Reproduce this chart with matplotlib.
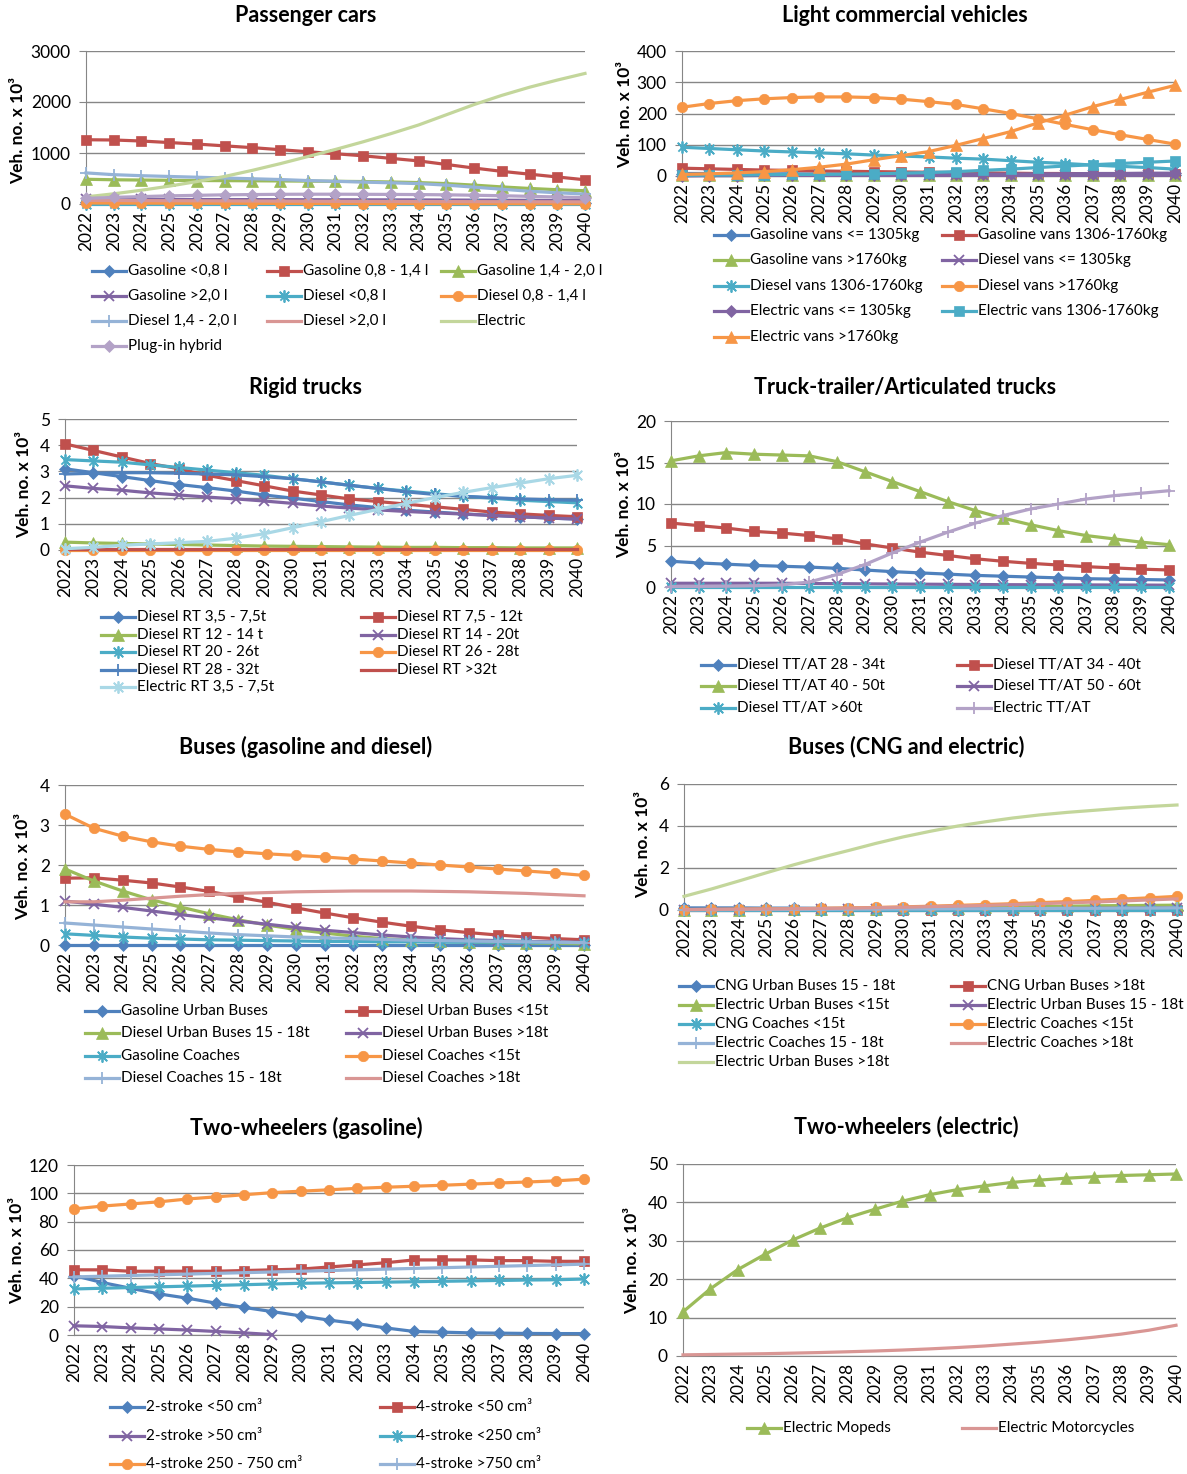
import numpy as np
import matplotlib
matplotlib.use("Agg")
from matplotlib import pyplot as plt
from matplotlib.lines import Line2D

W, H = 1187, 1474
plt.rcParams["font.family"] = ["Lato", "DejaVu Sans"]

years = list(range(2022, 2041))

# ---- Passenger cars ----
pc_labels = ["Gasoline <0,8 l", "Gasoline 0,8 - 1,4 l", "Gasoline 1,4 - 2,0 l",
             "Gasoline >2,0 l", "Diesel <0,8 l", "Diesel 0,8 - 1,4 l",
             "Diesel 1,4 - 2,0 l", "Diesel >2,0 l", "Electric", "Plug-in hybrid"]
pc_values = [
    [30, 30, 29, 28, 27, 26, 25, 24, 23, 22, 21, 20, 19, 18, 17, 16, 15, 15, 14],
    [1260, 1255, 1235, 1205, 1175, 1140, 1105, 1065, 1025, 985, 945, 895, 845, 775, 705, 640, 585, 530, 475],
    [485, 475, 470, 465, 460, 458, 455, 452, 448, 445, 440, 432, 420, 400, 370, 335, 305, 280, 260],
    [95, 93, 91, 90, 88, 87, 86, 85, 84, 83, 82, 81, 80, 78, 76, 74, 72, 70, 68],
    [2, 2, 2, 2, 2, 2, 2, 2, 2, 2, 2, 2, 2, 2, 2, 2, 2, 2, 2],
    [20, 18, 17, 16, 15, 14, 13, 12, 11, 10, 9, 9, 8, 8, 7, 7, 6, 6, 5],
    [610, 575, 555, 540, 525, 510, 495, 480, 460, 445, 430, 415, 400, 370, 330, 290, 250, 220, 195],
    [70, 68, 66, 64, 62, 60, 58, 56, 54, 52, 50, 49, 48, 47, 46, 45, 44, 43, 42],
    [140, 200, 270, 350, 440, 540, 660, 790, 930, 1070, 1220, 1380, 1550, 1750, 1950, 2130, 2290, 2430, 2560],
    [110, 130, 145, 160, 170, 180, 185, 190, 192, 192, 190, 188, 185, 180, 172, 162, 150, 138, 125],
]

# ---- Light commercial vehicles ----
lcv_labels = ["Gasoline vans <= 1305kg", "Gasoline vans 1306-1760kg",
              "Gasoline vans >1760kg", "Diesel vans <= 1305kg",
              "Diesel vans 1306-1760kg", "Diesel vans >1760kg",
              "Electric vans <= 1305kg", "Electric vans 1306-1760kg",
              "Electric vans >1760kg"]
lcv_values = [
    [8, 8, 7, 7, 7, 6, 6, 6, 5, 5, 5, 5, 4, 4, 4, 4, 3, 3, 3],
    [25, 23, 21, 19, 18, 16, 15, 14, 13, 12, 11, 10, 9, 8, 8, 7, 7, 6, 6],
    [2, 2, 2, 2, 2, 2, 2, 2, 2, 2, 2, 2, 2, 2, 2, 2, 2, 2, 2],
    [3, 3, 3, 3, 3, 3, 3, 3, 3, 3, 3, 3, 3, 3, 3, 3, 3, 3, 3],
    [92, 88, 84, 80, 77, 74, 71, 67, 64, 61, 57, 54, 49, 44, 40, 35, 31, 27, 22],
    [220, 232, 241, 247, 251, 253, 253, 251, 246, 238, 229, 215, 200, 183, 165, 148, 132, 117, 102],
    [0, 1, 1, 2, 2, 3, 3, 4, 4, 5, 5, 6, 6, 7, 7, 8, 8, 9, 9],
    [2, 3, 3, 4, 5, 5, 6, 7, 9, 11, 14, 18, 22, 27, 32, 36, 40, 44, 48],
    [5, 7, 10, 14, 20, 28, 38, 52, 65, 78, 98, 120, 142, 170, 195, 222, 245, 268, 290],
]

# ---- Rigid trucks ----
rt_labels = ["Diesel RT 3,5 - 7,5t", "Diesel RT 7,5 - 12t", "Diesel RT 12 - 14 t",
             "Diesel RT 14 - 20t", "Diesel RT 20 - 26t", "Diesel RT 26 - 28t",
             "Diesel RT 28 - 32t", "Diesel RT >32t", "Electric RT 3,5 - 7,5t"]
rt_values = [
    [3.1, 2.95, 2.8, 2.65, 2.5, 2.38, 2.25, 2.1, 1.98, 1.85, 1.72, 1.62, 1.52, 1.45, 1.38, 1.32, 1.27, 1.22, 1.18],
    [4.05, 3.8, 3.55, 3.3, 3.1, 2.85, 2.65, 2.45, 2.25, 2.1, 1.95, 1.85, 1.75, 1.65, 1.55, 1.45, 1.38, 1.32, 1.27],
    [0.3, 0.27, 0.25, 0.23, 0.21, 0.19, 0.17, 0.15, 0.14, 0.13, 0.12, 0.11, 0.1, 0.1, 0.09, 0.09, 0.08, 0.08, 0.08],
    [2.45, 2.35, 2.28, 2.18, 2.1, 2.02, 1.95, 1.87, 1.78, 1.68, 1.6, 1.53, 1.47, 1.42, 1.37, 1.32, 1.27, 1.22, 1.18],
    [3.45, 3.4, 3.35, 3.25, 3.15, 3.05, 2.95, 2.85, 2.72, 2.6, 2.47, 2.35, 2.25, 2.15, 2.05, 1.98, 1.9, 1.85, 1.8],
    [0.01] * 19,
    [2.9, 2.93, 2.95, 2.95, 2.93, 2.9, 2.87, 2.8, 2.72, 2.6, 2.47, 2.35, 2.22, 2.12, 2.05, 2.0, 1.95, 1.92, 1.9],
    [0.02] * 19,
    [0.05, 0.1, 0.18, 0.23, 0.28, 0.33, 0.45, 0.62, 0.85, 1.08, 1.32, 1.55, 1.78, 2.0, 2.2, 2.38, 2.55, 2.72, 2.85],
]

# ---- Truck-trailer / articulated trucks ----
tt_labels = ["Diesel TT/AT 28 - 34t", "Diesel TT/AT 34 - 40t", "Diesel TT/AT 40 - 50t",
             "Diesel TT/AT 50 - 60t", "Diesel TT/AT >60t", "Electric TT/AT"]
tt_values = [
    [3.1, 2.9, 2.75, 2.6, 2.5, 2.4, 2.25, 2.05, 1.85, 1.7, 1.55, 1.4, 1.3, 1.2, 1.1, 1.0, 0.95, 0.9, 0.85],
    [7.7, 7.4, 7.1, 6.7, 6.5, 6.2, 5.8, 5.2, 4.7, 4.2, 3.8, 3.4, 3.1, 2.85, 2.65, 2.45, 2.3, 2.15, 2.05],
    [15.2, 15.8, 16.2, 16.0, 15.9, 15.8, 15.1, 13.9, 12.7, 11.5, 10.3, 9.2, 8.3, 7.5, 6.8, 6.2, 5.8, 5.4, 5.1],
    [0.45, 0.45, 0.45, 0.45, 0.45, 0.42, 0.4, 0.38, 0.36, 0.34, 0.32, 0.3, 0.28, 0.27, 0.26, 0.25, 0.24, 0.23, 0.22],
    [0.05] * 19,
    [0.05, 0.07, 0.1, 0.15, 0.25, 0.6, 1.5, 2.7, 4.1, 5.4, 6.6, 7.7, 8.6, 9.4, 10.0, 10.6, 11.0, 11.3, 11.6],
]

# ---- Buses (gasoline and diesel) ----
bgd_labels = ["Gasoline Urban Buses", "Diesel Urban Buses <15t", "Diesel Urban Buses 15 - 18t",
              "Diesel Urban Buses >18t", "Gasoline Coaches", "Diesel Coaches <15t",
              "Diesel Coaches 15 - 18t", "Diesel Coaches >18t"]
bgd_values = [
    [0.01] * 19,
    [1.67, 1.68, 1.62, 1.55, 1.45, 1.34, 1.2, 1.07, 0.93, 0.8, 0.68, 0.57, 0.47, 0.38, 0.31, 0.25, 0.2, 0.16, 0.13],
    [1.9, 1.6, 1.35, 1.13, 0.95, 0.78, 0.63, 0.5, 0.39, 0.3, 0.22, 0.16, 0.12, 0.09, 0.07, 0.06, 0.05, 0.04, 0.03],
    [1.1, 1.02, 0.94, 0.85, 0.76, 0.68, 0.6, 0.52, 0.44, 0.37, 0.31, 0.25, 0.2, 0.16, 0.13, 0.11, 0.09, 0.08, 0.07],
    [0.28, 0.24, 0.2, 0.17, 0.15, 0.13, 0.12, 0.11, 0.1, 0.09, 0.09, 0.08, 0.08, 0.07, 0.07, 0.07, 0.06, 0.06, 0.06],
    [3.27, 2.92, 2.72, 2.58, 2.47, 2.39, 2.33, 2.28, 2.24, 2.2, 2.15, 2.1, 2.05, 2.0, 1.95, 1.9, 1.85, 1.8, 1.74],
    [0.55, 0.5, 0.45, 0.4, 0.35, 0.3, 0.26, 0.23, 0.2, 0.18, 0.16, 0.14, 0.12, 0.11, 0.1, 0.09, 0.08, 0.07, 0.06],
    [1.08, 1.08, 1.12, 1.17, 1.22, 1.26, 1.29, 1.31, 1.33, 1.34, 1.35, 1.35, 1.35, 1.34, 1.33, 1.31, 1.29, 1.26, 1.23],
]

# ---- Buses (CNG and electric) ----
bce_labels = ["CNG Urban Buses 15 - 18t", "CNG Urban Buses >18t", "Electric Urban Buses <15t",
              "Electric Urban Buses 15 - 18t", "CNG Coaches <15t", "Electric Coaches <15t",
              "Electric Coaches 15 - 18t", "Electric Coaches >18t", "Electric Urban Buses >18t"]
bce_values = [
    [0.1, 0.1, 0.1, 0.09, 0.09, 0.08, 0.07, 0.06, 0.05, 0.04, 0.04, 0.03, 0.03, 0.02, 0.02, 0.02, 0.02, 0.01, 0.01],
    [0.02] * 19,
    [0.0, 0.01, 0.02, 0.03, 0.04, 0.05, 0.06, 0.07, 0.08, 0.09, 0.1, 0.12, 0.14, 0.16, 0.18, 0.2, 0.21, 0.22, 0.23],
    [0.0, 0.01, 0.01, 0.02, 0.02, 0.03, 0.03, 0.04, 0.04, 0.05, 0.05, 0.06, 0.06, 0.07, 0.07, 0.08, 0.08, 0.09, 0.09],
    [0.01] * 19,
    [0.02, 0.03, 0.04, 0.05, 0.06, 0.08, 0.1, 0.12, 0.15, 0.18, 0.22, 0.26, 0.3, 0.35, 0.4, 0.46, 0.52, 0.58, 0.65],
    [0.01, 0.01, 0.02, 0.02, 0.03, 0.03, 0.04, 0.04, 0.05, 0.05, 0.06, 0.06, 0.07, 0.07, 0.08, 0.08, 0.09, 0.09, 0.1],
    [0.02, 0.03, 0.04, 0.05, 0.06, 0.07, 0.09, 0.11, 0.13, 0.16, 0.19, 0.22, 0.26, 0.3, 0.34, 0.38, 0.43, 0.48, 0.53],
    [0.65, 1.0, 1.38, 1.77, 2.15, 2.5, 2.83, 3.17, 3.48, 3.75, 4.0, 4.2, 4.38, 4.53, 4.65, 4.75, 4.85, 4.93, 5.0],
]

# ---- Two-wheelers (gasoline) ----
twg_labels = ["2-stroke <50 cm³", "4-stroke <50 cm³", "2-stroke >50 cm³",
              "4-stroke <250 cm³", "4-stroke 250 - 750 cm³", "4-stroke >750 cm³"]
twg_values = [
    [42, 37, 33, 29, 26, 22.5, 19.5, 16.5, 13.5, 10.5, 8, 5, 2.5, 2, 1.5, 1.3, 1.1, 1, 1],
    [46, 46, 45, 45, 45, 45, 45.5, 46, 46.5, 48, 49.5, 51, 53, 53, 53, 52.5, 52.5, 52, 52],
    [6.5, 6, 5, 4.3, 3.5, 2.5, 1.5, 0.3] + [None] * 11,
    [32.5, 33, 33.5, 34, 34.5, 35, 35.5, 36, 36.5, 36.8, 37, 37.3, 37.6, 37.9, 38.2, 38.5, 38.8, 39, 39.5],
    [89, 91, 92.5, 94, 96, 97.5, 99, 100.5, 101.5, 102.5, 103.5, 104.3, 105, 105.7, 106.5, 107.3, 108, 108.8, 110],
    [41, 41.5, 42, 42.5, 43, 43.5, 44, 44.5, 45, 45.5, 46, 46.5, 47, 47.5, 48, 48.5, 49, 49.5, 50],
]

# ---- Two-wheelers (electric) ----
twe_labels = ["Electric Mopeds", "Electric Motorcycles"]
twe_values = [
    [11.5, 17.5, 22.5, 26.5, 30.2, 33.3, 36, 38.2, 40.3, 42, 43.3, 44.3, 45.2, 45.8, 46.3, 46.7, 47, 47.2, 47.4],
    [0.3, 0.4, 0.5, 0.6, 0.75, 0.9, 1.1, 1.3, 1.55, 1.85, 2.2, 2.6, 3.1, 3.6, 4.2, 4.9, 5.7, 6.7, 8.0],
]

# colours / markers (Excel-like)
BLUE, RED, GREEN, PURPLE = "#4F81BD", "#C0504D", "#9BBB59", "#8064A2"
AQUA, ORANGE = "#4BACC6", "#F79646"
LBLUE, LRED, LGREEN, LPURPLE, LAQUA = "#95B3D7", "#D99694", "#C3D69B", "#B3A2C7", "#A9D8E6"
AST = [(-1, -1), (1, 1), (0, 0), (-1, 1), (1, -1), (0, 0), (0, 1.35), (0, -1.35), (0, 0)]
base = [(BLUE, "D"), (RED, "s"), (GREEN, "^"), (PURPLE, "x"), (AQUA, "ast"), (ORANGE, "o")]

pc_styles = base + [(LBLUE, "+"), (LRED, None), (LGREEN, None), (LPURPLE, "D")]
lcv_styles = base + [(PURPLE, "D"), (AQUA, "s"), (ORANGE, "^")]
rt_styles = base + [(BLUE, "+"), (RED, None), (LAQUA, "ast")]
tt_styles = base[:5] + [(LPURPLE, "+")]
bgd_styles = base + [(LBLUE, "+"), (LRED, None)]
bce_styles = base + [(LBLUE, "+"), (LRED, None), (LGREEN, None)]
twg_styles = [(BLUE, "D"), (RED, "s"), (PURPLE, "x"), (AQUA, "ast"), (ORANGE, "o"), (LBLUE, "+")]
twe_styles = [(GREEN, "^"), (LRED, None)]

MS = {"D": 6, "s": 7, "^": 8, "x": 7, "ast": 8, "o": 7.5, "+": 8}
LW = 2.3
GRID = "#868686"
FS = 12.5
LFS = 11

fig = plt.figure(figsize=(W / 100, H / 100), dpi=100)


def fx(x):
    return x / W


def fy(y):
    return 1 - y / H


def mstyle(color, marker):
    if marker is None:
        return {}
    thin = marker in ("x", "+", "ast")
    return dict(marker=AST if marker == "ast" else marker, markersize=MS[marker],
                markerfacecolor=color, markeredgecolor=color,
                markeredgewidth=1.3 if thin else 0.5)


def panel(title, labels, values, styles, geom, ylab, tpos, leg):
    x0, x1, ytop, ybot, ymax, ystep = geom
    ax = fig.add_axes([fx(x0), fy(ybot), (x1 - x0) / W, (ybot - ytop) / H])
    idx = np.arange(len(years))
    for vals, (color, marker) in zip(values, styles):
        ys = np.array([np.nan if v is None else v for v in vals], dtype=float)
        ax.plot(idx, ys, color=color, lw=LW, clip_on=False, zorder=3, **mstyle(color, marker))
    ax.set_xlim(0, len(years) - 1)
    ax.set_ylim(0, ymax)
    ax.set_yticks(np.arange(0, ymax + ystep / 2, ystep))
    ax.set_xticks(idx)
    ax.set_xticklabels([str(y) for y in years], rotation=90)
    ax.tick_params(axis="x", length=0, pad=5, labelsize=FS)
    ax.tick_params(axis="y", length=5, color=GRID, pad=6, labelsize=FS)
    ax.yaxis.grid(True, color=GRID, lw=1)
    ax.set_axisbelow(True)
    for s in ("top", "right"):
        ax.spines[s].set_visible(False)
    for s in ("left", "bottom"):
        ax.spines[s].set_color(GRID)
    ax.set_facecolor("none")
    fig.text(fx(tpos[0]), fy(tpos[1]), title, ha="center", va="center",
             fontsize=15.5, fontweight="bold")
    fig.text(fx(ylab[0]), fy(ylab[1]), "Veh. no. x 10³", rotation=90, ha="center",
             va="center", fontsize=12.5, fontweight="bold")
    cols, rows = leg
    ncol = len(cols)
    for i, (lab, (color, marker)) in enumerate(zip(labels, styles)):
        xl = cols[i % ncol]
        yl = rows[i // ncol]
        fig.add_artist(Line2D([fx(xl), fx(xl + 34)], [fy(yl)] * 2, color=color, lw=LW,
                              transform=fig.transFigure))
        if marker is not None:
            fig.add_artist(Line2D([fx(xl + 17)], [fy(yl)], color=color, lw=0,
                                  transform=fig.transFigure, **mstyle(color, marker)))
        fig.text(fx(xl + 36), fy(yl), lab, ha="left", va="center", fontsize=LFS)
    return ax


panel("Passenger cars", pc_labels, pc_values, pc_styles,
      (86, 585, 51, 204, 3000, 1000), (18, 130), (306, 15),
      ([92, 267, 441], [271, 296, 321, 346]))
panel("Light commercial vehicles", lcv_labels, lcv_values, lcv_styles,
      (682, 1175, 51, 176, 400, 100), (625, 114), (905, 15),
      ([714, 942], [235, 260, 286, 311, 337]))
panel("Rigid trucks", rt_labels, rt_values, rt_styles,
      (65, 577, 419, 550, 5, 1), (24, 485), (306, 387),
      ([101, 361], [617, 635, 652, 670, 687]))
panel("Truck-trailer/Articulated trucks", tt_labels, tt_values, tt_styles,
      (671, 1169, 421, 587, 20, 5), (624, 504), (905, 387),
      ([701, 957], [665, 686, 708]))
panel("Buses (gasoline and diesel)", bgd_labels, bgd_values, bgd_styles,
      (65, 584, 785, 945, 4, 1), (23, 866), (306, 747),
      ([85, 346], [1011, 1033, 1056, 1078]))
panel("Buses (CNG and electric)", bce_labels, bce_values, bce_styles,
      (684, 1177, 784, 910, 6, 2), (643, 845), (906, 747),
      ([679, 951], [986, 1005, 1024, 1043, 1062]))
panel("Two-wheelers (gasoline)", twg_labels, twg_values, twg_styles,
      (74, 584, 1165, 1335, 120, 20), (17, 1251), (306, 1128),
      ([110, 380], [1407, 1436, 1464]))
panel("Two-wheelers (electric)", twe_labels, twe_values, twe_styles,
      (683, 1176, 1164, 1356, 50, 10), (632, 1260), (906, 1127),
      ([747, 962], [1428]))

fig.savefig("out.png", dpi=100)
